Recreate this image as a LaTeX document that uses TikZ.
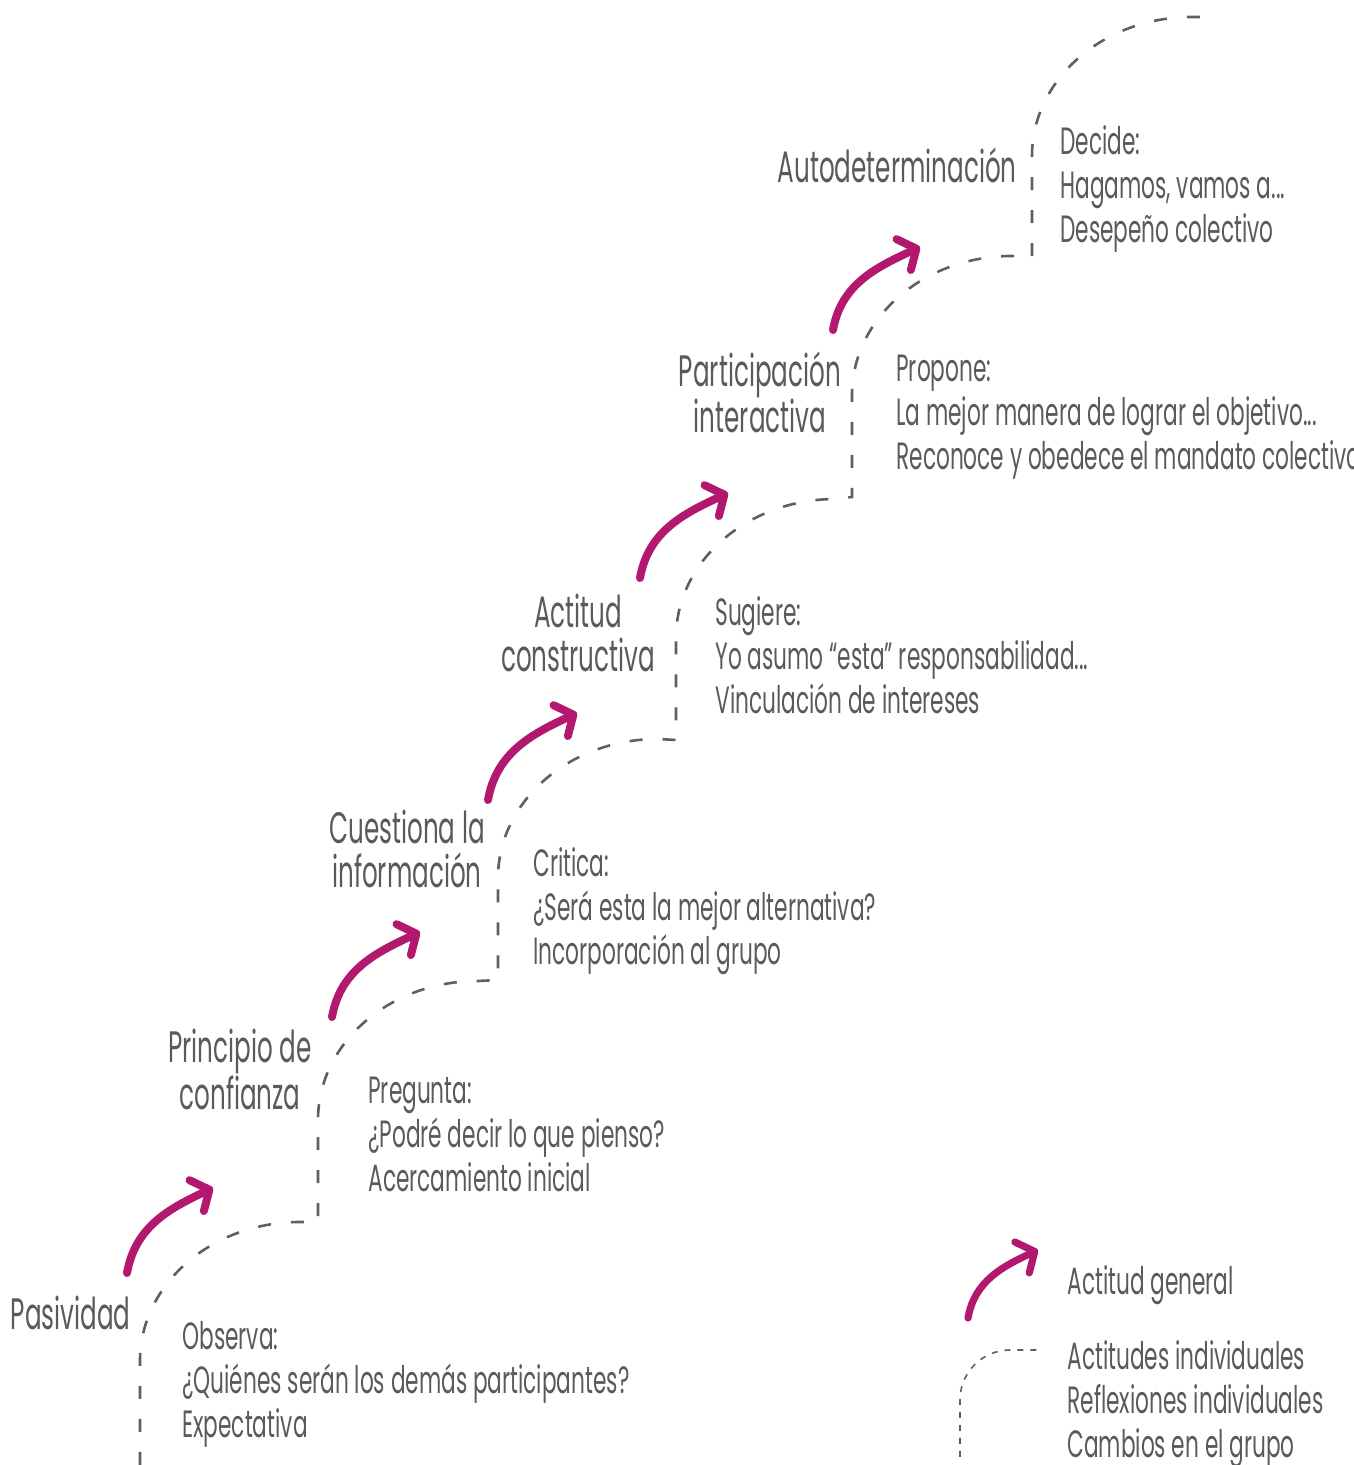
\documentclass[tikz,border=0pt]{standalone}
\usepackage{fontspec}
\usepackage{xcolor}
\usepackage{tikz}
\usetikzlibrary{arrows.meta}
\setmainfont{Poppins}[FakeStretch=0.57]
\newfontfamily\stagefont{Poppins}[FakeStretch=0.56]
\definecolor{ink}{RGB}{90,90,90}
\definecolor{stairgrey}{RGB}{95,95,95}
\definecolor{signal}{RGB}{178,24,110}

\begin{document}
\begin{tikzpicture}[
  x=0.5pt, y=0.5pt,
  stage/.style={text=ink, inner sep=0pt, align=center, anchor=base,
                font=\stagefont\fontsize{22}{22}\selectfont},
  note/.style={text=ink, inner sep=0pt, align=left, anchor=base west,
               font=\fontsize{19}{22}\selectfont},
  stairs/.style={draw=stairgrey, line width=1.3pt, dash pattern=on 6.5pt off 10pt},
  keystairs/.style={draw=stairgrey, line width=0.8pt, dash pattern=on 3pt off 3.5pt},
  rise/.style={draw=signal, line width=4pt, line cap=round,
               -{Straight Barb[round, length=7pt, width=17pt]}}]
  \useasboundingbox (0,0) rectangle (1353,1465);
  % step corners
  \coordinate (foot) at (140,0);
  \coordinate (c1) at (318,243);
  \coordinate (c2) at (498,485);
  \coordinate (c3) at (676,725);
  \coordinate (c4) at (852,968);
  \coordinate (c5) at (1032,1207);
  % dashed staircase
  \draw[stairs] (foot) -- ++(0,104) arc[start angle=180, end angle=90, x radius=160, y radius=139] -- (c1)
    -- ++(0,102) arc[start angle=180, end angle=90, x radius=160, y radius=139] -- (c2)
    -- ++(0,102) arc[start angle=180, end angle=90, x radius=160, y radius=139] -- (c3)
    -- ++(0,102) arc[start angle=180, end angle=90, x radius=160, y radius=139] -- (c4)
    -- ++(0,102) arc[start angle=180, end angle=90, x radius=160, y radius=139] -- (c5)
    -- ++(0,102) arc[start angle=180, end angle=90, x radius=160, y radius=139] -- ++(16,0);
  % general attitude arrows
  \coordinate (a1) at (127,192);  \coordinate (b1) at (213,277);
  \coordinate (a2) at (332,448);  \coordinate (b2) at (420,533);
  \coordinate (a3) at (488,665);  \coordinate (b3) at (577,752);
  \coordinate (a4) at (640,887);  \coordinate (b4) at (728,972);
  \coordinate (a5) at (833,1135); \coordinate (b5) at (920,1218);
  \draw[rise] (a1) to[out=80, in=205] (b1);
  \draw[rise] (a2) to[out=80, in=205] (b2);
  \draw[rise] (a3) to[out=80, in=205] (b3);
  \draw[rise] (a4) to[out=80, in=205] (b4);
  \draw[rise] (a5) to[out=80, in=205] (b5);
  % stages (base = last line)
  \node[stage, anchor=base east] (pas) at (131,135) {Pasividad};
  \node[stage] (conf) at (240,355) {Principio de\\confianza};
  \node[stage] (cues) at (407,577) {Cuestiona la\\información};
  \node[stage] (acti) at (578,793) {Actitud\\constructiva};
  \node[stage] (part) at (760,1032) {Participación\\interactiva};
  \node[stage, anchor=base east] (auto) at (1017,1282) {Autodeterminación};
  % reflections
  \node[note] (obs) at (182,28) {Observa:\\¿Quiénes serán los demás participantes?\\Expectativa};
  \node[note] (pre) at (368,273) {Pregunta:\\¿Podré decir lo que pienso?\\Acercamiento inicial};
  \node[note] (cri) at (533,500) {Critica:\\¿Será esta la mejor alternativa?\\Incorporación al grupo};
  \node[note] (sug) at (715,751) {Sugiere:\\Yo asumo “esta” responsabilidad...\\Vinculación de intereses};
  \node[note] (pro) at (896,995) {Propone:\\La mejor manera de lograr el objetivo...\\Reconoce y obedece el mandato colectivo};
  \node[note] (dec) at (1060,1222) {Decide:\\Hagamos, vamos a...\\Desepeño colectivo};
  % key
  \coordinate (ka) at (968,147); \coordinate (kb) at (1038,215);
  \draw[rise, line width=3.6pt] (ka) to[out=80, in=205] (kb);
  \coordinate (kfoot) at (960,8);
  \draw[keystairs] (kfoot) -- ++(0,57) arc[start angle=180, end angle=90, x radius=50, y radius=50] -- ++(28,0);
  \node[note] (kgen) at (1067,170) {Actitud general};
  \node[note] (kind) at (1067,8) {Actitudes individuales\\Reflexiones individuales\\Cambios en el grupo};
\end{tikzpicture}
\end{document}
